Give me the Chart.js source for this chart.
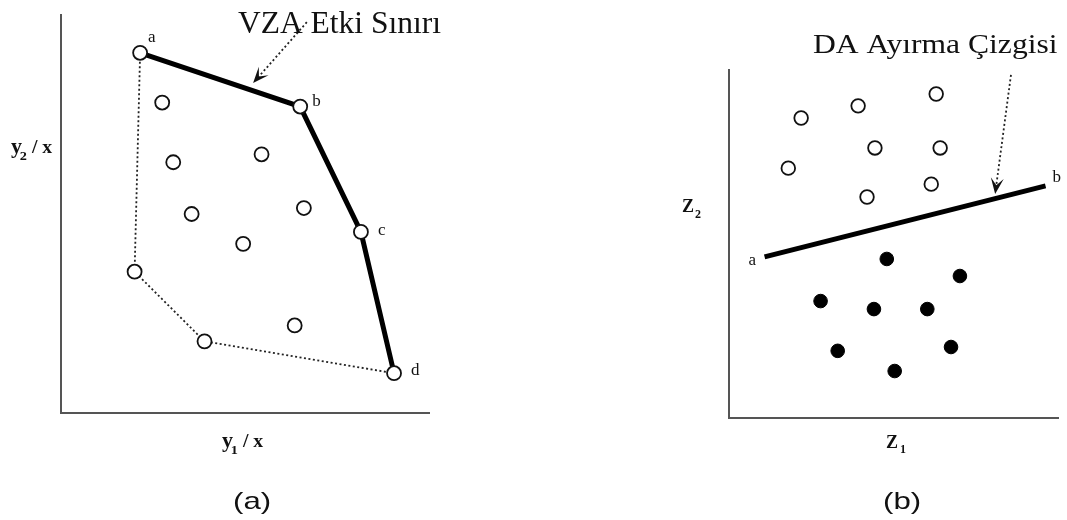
<!DOCTYPE html>
<html>
<head>
<meta charset="utf-8">
<title>VZA ve DA</title>
<script src="https://cdn.jsdelivr.net/npm/chart.js@4.4.0/dist/chart.umd.min.js"></script>
<style>
  body { margin: 0; background: #fff; width: 1067px; height: 520px; overflow: hidden; position: relative; }
  .panel { position: absolute; top: 0; }
  #panelA { left: 0; }
  #panelB { left: 660px; }
</style>
</head>
<body>
<div class="panel" id="panelA"><canvas id="chartA" width="520" height="520"></canvas></div>
<div class="panel" id="panelB"><canvas id="chartB" width="407" height="520"></canvas></div>
<script>
// (a) VZA - etkin sınır (a, b, c, d) ve zarfın alt kısmı
const frontier = [[21.5, 90.5], [65, 77], [81.5, 45.5], [90.5, 10]];
const frontierNames = ['a', 'b', 'c', 'd'];
const lowerHull = [[20, 35.5], [39, 18]];
const innerUnits = [[27.5, 78], [30.5, 63], [54.5, 65], [35.5, 50], [66, 51.5], [49.5, 42.5], [63.5, 22]];
const arrowA = [[66.8, 98.2], [52.2, 82.9]];

// (b) DA - iki grup ve ayırma çizgisi
const groupOpen = [[21.9, 86.2], [39.2, 89.7], [62.9, 93.1], [44.3, 77.6], [64.1, 77.6], [18, 71.8], [61.4, 67.2], [41.9, 63.5]];
const groupFilled = [[47.9, 45.7], [70.1, 40.8], [27.8, 33.6], [44, 31.3], [60.2, 31.3], [33, 19.3], [67.4, 20.4], [50.3, 13.5]];
const divider = [[10.8, 46.3], [96.1, 66.7]];
const dividerNames = ['a', 'b'];
const arrowB = [[85.6, 98.6], [80.8, 64.4]];

const SERIF = '"Liberation Serif", "Times New Roman", serif';
const SANS = '"Liberation Sans", Arial, sans-serif';

const toXY = arr => arr.map(p => ({ x: p[0], y: p[1] }));

// yazıyı parça parça (alt simge için) ve yatay ölçekle çiz
function drawRuns(ctx, x, y, runs, sx) {
    ctx.save();
    ctx.translate(x, y);
    ctx.scale(sx || 1, 1);
    let cx = 0;
    runs.forEach(r => {
        ctx.font = r.font;
        ctx.fillText(r.text, cx + (r.dx || 0), r.dy || 0);
        cx += ctx.measureText(r.text).width + (r.dx || 0);
    });
    ctx.restore();
}

// kesikli ok, okun başı dolu
function drawArrow(ctx, from, to) {
    const dx = to[0] - from[0], dy = to[1] - from[1];
    const len = Math.hypot(dx, dy);
    const ux = dx / len, uy = dy / len;
    const L = 16, W = 6.5;
    const bx = to[0] - ux * L, by = to[1] - uy * L;
    const nx = to[0] - ux * L * 0.55, ny = to[1] - uy * L * 0.55;
    ctx.save();
    ctx.strokeStyle = '#222';
    ctx.lineWidth = 1.8;
    ctx.setLineDash([2, 2.5]);
    ctx.beginPath();
    ctx.moveTo(from[0], from[1]);
    ctx.lineTo(nx, ny);
    ctx.stroke();
    ctx.setLineDash([]);
    ctx.fillStyle = '#111';
    ctx.beginPath();
    ctx.moveTo(to[0], to[1]);
    ctx.lineTo(bx - uy * W, by + ux * W);
    ctx.lineTo(nx, ny);
    ctx.lineTo(bx + uy * W, by - ux * W);
    ctx.closePath();
    ctx.fill();
    ctx.restore();
}

const annotate = {
    id: 'annotate',
    afterDatasetsDraw(chart, args, opts) {
        const ctx = chart.ctx;
        const xs = chart.scales.x, ys = chart.scales.y;
        const px = p => [xs.getPixelForValue(p[0]), ys.getPixelForValue(p[1])];

        drawArrow(ctx, px(opts.arrow[0]), px(opts.arrow[1]));

        ctx.save();
        ctx.fillStyle = '#111';
        ctx.textBaseline = 'alphabetic';
        ctx.font = '17px ' + SERIF;
        opts.names.forEach((n, i) => {
            const p = px(opts.named[i]);
            ctx.fillText(n, p[0] + opts.nameOffsets[i][0], p[1] + opts.nameOffsets[i][1]);
        });
        opts.texts.forEach(t => drawRuns(ctx, t.x, t.y, t.runs, t.sx));
        ctx.restore();
    }
};

function axisOpts() {
    return {
        type: 'linear', min: 0, max: 100,
        ticks: { display: false },
        grid: { display: false, drawTicks: false },
        border: { display: true, color: '#555', width: 2 }
    };
}

function baseOptions(padding, annot) {
    return {
        responsive: false,
        animation: false,
        events: [],
        layout: { padding: padding },
        plugins: {
            legend: { display: false },
            tooltip: { enabled: false },
            annotate: annot
        },
        scales: { x: axisOpts(), y: axisOpts() }
    };
}

const boldSerif = s => 'bold ' + s + 'px ' + SERIF;

new Chart(document.getElementById('chartA'), {
    type: 'scatter',
    data: {
        datasets: [
            {
                label: 'Birimler',
                data: toXY([...frontier, ...lowerHull, ...innerUnits]),
                pointRadius: 7,
                pointBackgroundColor: '#fff',
                pointBorderColor: '#111',
                pointBorderWidth: 1.8,
                clip: false,
                order: 0
            },
            {
                label: 'Etkin sınır',
                data: toXY(frontier),
                showLine: true,
                borderColor: '#000',
                borderWidth: 5,
                pointRadius: 0,
                clip: false,
                order: 1
            },
            {
                label: 'Zarf',
                data: toXY([frontier[0], ...lowerHull, frontier[frontier.length - 1]]),
                showLine: true,
                borderColor: '#222',
                borderWidth: 1.8,
                borderDash: [2, 2.5],
                pointRadius: 0,
                clip: false,
                order: 2
            }
        ]
    },
    options: baseOptions({ left: 61, top: 15, right: 91, bottom: 107 }, {
        arrow: arrowA,
        named: frontier,
        names: frontierNames,
        nameOffsets: [[8, -11], [12, -1], [17, 3], [17, 2]],
        texts: [
            { x: 238, y: 33, runs: [{ text: 'VZA Etki Sınırı', font: '31.5px ' + SERIF }] },
            { x: 11, y: 153, sx: 1.1, runs: [
                { text: 'y', font: boldSerif(20) },
                { text: '2', font: boldSerif(13), dx: -2, dy: 7 },
                { text: ' / x', font: boldSerif(18) }
            ] },
            { x: 222, y: 447, sx: 1.1, runs: [
                { text: 'y', font: boldSerif(20) },
                { text: '1', font: boldSerif(13), dx: -2, dy: 7 },
                { text: ' / x', font: boldSerif(18) }
            ] },
            { x: 233, y: 509, sx: 1.3, runs: [{ text: '(a)', font: '24px ' + SANS }] }
        ]
    }),
    plugins: [annotate]
});

new Chart(document.getElementById('chartB'), {
    type: 'scatter',
    data: {
        datasets: [
            {
                label: 'Grup 1',
                data: toXY(groupOpen),
                pointRadius: 6.8,
                pointBackgroundColor: '#fff',
                pointBorderColor: '#111',
                pointBorderWidth: 1.8,
                clip: false,
                order: 0
            },
            {
                label: 'Grup 2',
                data: toXY(groupFilled),
                pointRadius: 6.8,
                pointBackgroundColor: '#000',
                pointBorderColor: '#000',
                pointBorderWidth: 1,
                clip: false,
                order: 0
            },
            {
                label: 'Ayırma çizgisi',
                data: toXY(divider),
                showLine: true,
                borderColor: '#000',
                borderWidth: 5,
                pointRadius: 0,
                clip: false,
                order: 1
            }
        ]
    },
    options: baseOptions({ left: 69, top: 70, right: 4, bottom: 102 }, {
        arrow: arrowB,
        named: divider,
        names: dividerNames,
        nameOffsets: [[-16, 8], [7, -4]],
        texts: [
            { x: 153, y: 53, sx: 1.17, runs: [{ text: 'DA Ayırma Çizgisi', font: '27px ' + SERIF }] },
            { x: 22, y: 212, runs: [
                { text: 'Z', font: boldSerif(18) },
                { text: '2', font: boldSerif(12), dx: 1, dy: 6 }
            ] },
            { x: 226, y: 448, runs: [
                { text: 'Z', font: boldSerif(18) },
                { text: '1', font: boldSerif(12), dx: 2, dy: 5 }
            ] },
            { x: 223, y: 509, sx: 1.3, runs: [{ text: '(b)', font: '24px ' + SANS }] }
        ]
    }),
    plugins: [annotate]
});
</script>
</body>
</html>
